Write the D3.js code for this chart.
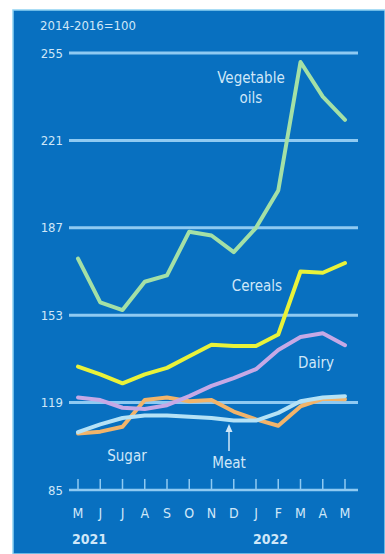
<!DOCTYPE html>
<html><head><meta charset="utf-8">
<script src="https://cdn.jsdelivr.net/npm/d3@7"></script>
<style>html,body{margin:0;padding:0;background:#fff;}svg{display:block;}
text{font-family:'DejaVu Sans Condensed','DejaVu Sans',sans-serif;font-stretch:condensed;}</style>
</head><body>
<script>
const months = ["M","J","J","A","S","O","N","D","J","F","M","A","M"];
const yTicks = [85,119,153,187,221,255];
const years = ["2021","2022"];
const vegOils = [175,158,155,166,168.5,185.5,184,177.5,187,201.5,251.5,238,229];
const cereals = [133,130,126.5,130,132.5,137,141.5,141,141,145.5,170,169.5,173.3];
const dairy = [121,120,117,116.5,118,121.5,125.5,128.5,132,139.5,144.5,146,141.3];
const meat = [107.5,110.5,113,114,114,113.5,113,112,112,115,119.5,121,121.5];
const sugar = [107,107.7,109.6,120,121,119.5,120,115.5,112.5,110,117.5,120.5,120.3];

const W = 385, H = 554;
const svg = d3.select("body").append("svg").attr("width", W).attr("height", H);
const txt = "#cfe7f8";

svg.append("rect").attr("x",13).attr("y",10).attr("width",W-13).attr("height",H-10)
  .attr("fill","#0870c0").attr("stroke","#8ed2f2").attr("stroke-width",1.5);

const x = d3.scalePoint().domain(d3.range(months.length)).range([78,345]);
const y = d3.scaleLinear().domain([85,255]).range([490,53]);

// gridlines
svg.append("g").selectAll("line").data(yTicks).join("line")
  .attr("x1",69).attr("x2",358).attr("y1",d=>y(d)).attr("y2",d=>y(d))
  .attr("stroke","#8fcaf2").attr("stroke-width",d=>d===85?2.5:3);

svg.append("g").selectAll("text").data(yTicks).join("text")
  .attr("x",63).attr("y",d=>y(d)+4.5).attr("text-anchor","end")
  .attr("font-size",13).attr("fill",txt).text(d=>d);

svg.append("text").attr("x",40).attr("y",30)
  .attr("font-size",13).attr("fill",txt).text("2014-2016=100");

// x ticks
svg.append("g").selectAll("line").data(d3.range(months.length)).join("line")
  .attr("x1",d=>x(d)).attr("x2",d=>x(d)).attr("y1",479).attr("y2",490)
  .attr("stroke","#8fcaf2").attr("stroke-width",1.5);
svg.append("g").selectAll("text").data(months).join("text")
  .attr("x",(d,i)=>x(i)).attr("y",518).attr("text-anchor","middle")
  .attr("font-size",14).attr("fill",txt).text(d=>d);
svg.append("text").attr("x",72).attr("y",544)
  .attr("font-size",14).attr("font-weight","bold").attr("fill",txt).text(years[0]);
svg.append("text").attr("x",253).attr("y",544)
  .attr("font-size",14).attr("font-weight","bold").attr("fill",txt).text(years[1]);

const line = d3.line().x((d,i)=>x(i)).y(d=>y(d));
const series = [
  {v:sugar, c:"#f2b46a"},
  {v:meat, c:"#b5e2f6"},
  {v:dairy, c:"#c6a9e6"},
  {v:cereals, c:"#e9f23a"},
  {v:vegOils, c:"#a4e0a6"}
];
svg.append("g").selectAll("path").data(series).join("path")
  .attr("d",d=>line(d.v)).attr("fill","none").attr("stroke",d=>d.c)
  .attr("stroke-width",4).attr("stroke-linejoin","round").attr("stroke-linecap","round");

// labels
const lab = (t,xx,yy)=>svg.append("text").attr("x",xx).attr("y",yy).attr("text-anchor","middle")
  .attr("font-size",15).attr("fill",txt).text(t);
lab("Vegetable",251,83); lab("oils",251,103);
lab("Cereals",257,291);
lab("Dairy",316,368);
lab("Sugar",127,461);
lab("Meat",229,468);
// meat arrow
svg.append("line").attr("x1",229).attr("x2",229).attr("y1",451).attr("y2",430)
  .attr("stroke",txt).attr("stroke-width",1.5);
svg.append("path").attr("d","M229,424 L225.5,432 L232.5,432 Z").attr("fill",txt);
</script>
</body></html>
